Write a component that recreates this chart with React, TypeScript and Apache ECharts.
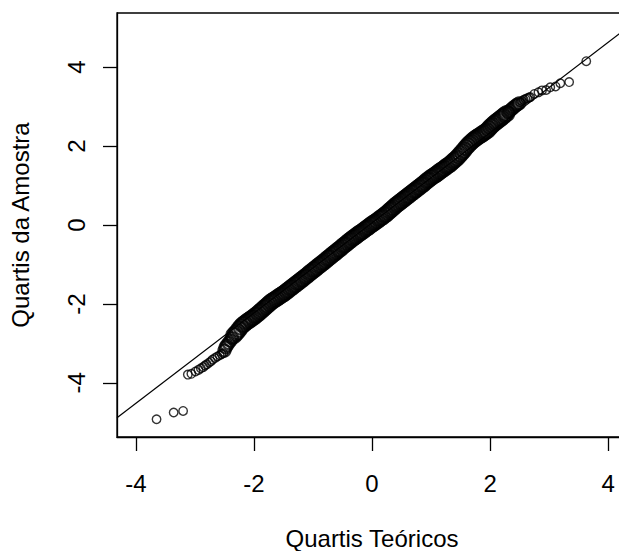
import React, { useEffect, useRef } from "react";
import * as echarts from "echarts";

// Theoretical (normal) quantiles
const theoreticalQuantiles = [
  -3.65, -3.36, -3.2, -3.12, -3.06, -2.99, -2.94, -2.9, -2.86, -2.83, -2.8, -2.76, -2.73, -2.7, -2.66, -2.62,
  -2.58, -2.55, -2.52, -2.5, -2.48, -2.46, -2.43, -2.4, -2.37, -2.34, -2.31, -2.28, -2.25, -2.22, -2.19, -2.16,
  -2.13, -2.1, -2.07, -2.04, -2.01, -1.98, -1.95, -1.92, -1.89, -1.86, -1.83, -1.8, -1.77, -1.74, -1.71, -1.68,
  -1.65, -1.62, -1.59, -1.56, -1.53, -1.5, -1.47, -1.44, -1.41, -1.38, -1.35, -1.32, -1.29, -1.26, -1.23, -1.2,
  -1.17, -1.14, -1.11, -1.08, -1.05, -1.02, -0.99, -0.96, -0.93, -0.9, -0.87, -0.84, -0.81, -0.78, -0.75, -0.72,
  -0.69, -0.66, -0.63, -0.6, -0.57, -0.54, -0.51, -0.48, -0.45, -0.42, -0.39, -0.36, -0.33, -0.3, -0.27, -0.24,
  -0.21, -0.18, -0.15, -0.12, -0.09, -0.06, -0.03, 0.0, 0.03, 0.06, 0.09, 0.12, 0.15, 0.18, 0.21, 0.24,
  0.27, 0.3, 0.33, 0.36, 0.39, 0.42, 0.45, 0.48, 0.51, 0.54, 0.57, 0.6, 0.63, 0.66, 0.69, 0.72,
  0.75, 0.78, 0.81, 0.84, 0.87, 0.9, 0.93, 0.96, 0.99, 1.02, 1.05, 1.08, 1.11, 1.14, 1.17, 1.2,
  1.23, 1.26, 1.29, 1.32, 1.35, 1.38, 1.41, 1.44, 1.47, 1.5, 1.53, 1.56, 1.59, 1.62, 1.65, 1.68,
  1.71, 1.74, 1.77, 1.8, 1.83, 1.86, 1.89, 1.92, 1.95, 1.98, 2.01, 2.04, 2.07, 2.1, 2.13, 2.16,
  2.19, 2.22, 2.25, 2.28, 2.31, 2.34, 2.37, 2.4, 2.43, 2.46, 2.49, 2.51, 2.54, 2.57, 2.6, 2.63,
  2.66, 2.68, 2.75, 2.82, 2.88, 2.95, 3.02, 3.11, 3.19, 3.34, 3.63,
];

// Sample quantiles
const sampleQuantiles = [
  -4.92, -4.75, -4.71, -3.79, -3.77, -3.71, -3.67, -3.63, -3.6, -3.56, -3.53, -3.49, -3.45, -3.41, -3.37, -3.33,
  -3.3, -3.27, -3.25, -3.18, -3.1, -3.05, -2.99, -2.93, -2.87, -2.8, -2.75, -2.7, -2.64, -2.58, -2.53, -2.5,
  -2.46, -2.43, -2.4, -2.37, -2.34, -2.3, -2.27, -2.23, -2.19, -2.15, -2.11, -2.07, -2.03, -1.99, -1.95, -1.92,
  -1.89, -1.86, -1.83, -1.8, -1.77, -1.74, -1.71, -1.67, -1.64, -1.6, -1.57, -1.53, -1.5, -1.46, -1.43, -1.39,
  -1.36, -1.32, -1.29, -1.25, -1.21, -1.18, -1.14, -1.11, -1.07, -1.03, -1.0, -0.96, -0.93, -0.89, -0.85, -0.82,
  -0.78, -0.74, -0.71, -0.67, -0.63, -0.6, -0.56, -0.52, -0.49, -0.45, -0.41, -0.38, -0.34, -0.31, -0.28, -0.24,
  -0.21, -0.18, -0.15, -0.11, -0.08, -0.05, -0.01, 0.02, 0.05, 0.08, 0.11, 0.15, 0.18, 0.21, 0.25, 0.28,
  0.32, 0.36, 0.4, 0.44, 0.48, 0.52, 0.55, 0.59, 0.62, 0.66, 0.69, 0.73, 0.76, 0.8, 0.83, 0.87,
  0.9, 0.94, 0.97, 1.01, 1.04, 1.08, 1.12, 1.15, 1.19, 1.22, 1.25, 1.28, 1.31, 1.35, 1.38, 1.41,
  1.44, 1.48, 1.51, 1.54, 1.58, 1.62, 1.66, 1.7, 1.75, 1.8, 1.85, 1.9, 1.96, 2.01, 2.06, 2.1,
  2.14, 2.18, 2.21, 2.24, 2.27, 2.3, 2.33, 2.36, 2.39, 2.44, 2.49, 2.53, 2.57, 2.61, 2.64, 2.68,
  2.71, 2.75, 2.79, 2.82, 2.86, 2.9, 2.94, 2.98, 3.02, 3.05, 3.08, 3.11, 3.14, 3.17, 3.19, 3.21,
  3.23, 3.24, 3.32, 3.36, 3.41, 3.42, 3.49, 3.51, 3.59, 3.62, 4.15,
];

// Reference line (qqline) end points
const refLineX = [-4.32, 4.32];
const refLineY = [-4.88, 4.99];

const xTicks = [-4, -2, 0, 2, 4];
const yTicks = [-4, -2, 0, 2, 4];
const xTitle = "Quartis Teóricos";
const yTitle = "Quartis da Amostra";

const FONT = "'Liberation Sans', Arial, Helvetica, sans-serif";

// Overlapping circles in the dense centre merge into a thick band
function markerSize(x: number): number {
  if (x > -2.36 && x < 2.3) return 15;
  if (x > -2.51 && x < 2.5) return 12;
  return 8.5;
}
function markerStroke(x: number): number {
  if (x > -2.51 && x < 2.5) return 2.2;
  return 1.4;
}

export default function App() {
  const ref = useRef<HTMLDivElement>(null);

  useEffect(() => {
    if (!ref.current) return;
    const chart = echarts.init(ref.current, undefined, { renderer: "svg" });
    const points = theoreticalQuantiles.map((x, i) => ({
      value: [x, sampleQuantiles[i]],
      symbolSize: markerSize(x),
      itemStyle: { borderWidth: markerStroke(x) },
    }));
    const linePts = refLineX.map((x, i) => [x, refLineY[i]]);

    chart.setOption({
      animation: false,
      backgroundColor: "#ffffff",
      grid: {
        left: 117,
        top: 13,
        right: -8,
        bottom: 114,
        containLabel: false,
        outerBoundsMode: "none",
        show: true,
        borderColor: "#000",
        borderWidth: 1.3,
        backgroundColor: "transparent",
      },
      xAxis: {
        type: "value",
        min: -4.32,
        max: 4.32,
        name: xTitle,
        nameLocation: "middle",
        nameGap: 89,
        nameTextStyle: { fontSize: 24, color: "#000", fontFamily: FONT },
        axisLine: { show: true, onZero: false, lineStyle: { color: "#000", width: 1.3 } },
        axisTick: {
          show: true,
          customValues: xTicks,
          length: 14,
          lineStyle: { color: "#000", width: 1.3 },
        },
        axisLabel: {
          customValues: xTicks,
          fontSize: 24,
          color: "#000",
          margin: 34,
          fontFamily: FONT,
        },
        splitLine: { show: false },
      },
      yAxis: {
        type: "value",
        min: -5.37,
        max: 5.37,
        name: yTitle,
        nameLocation: "middle",
        nameGap: 85,
        nameTextStyle: { fontSize: 24, color: "#000", fontFamily: FONT },
        axisLine: { show: true, onZero: false, lineStyle: { color: "#000", width: 1.3 } },
        axisTick: {
          show: true,
          customValues: yTicks,
          length: 14,
          lineStyle: { color: "#000", width: 1.3 },
        },
        axisLabel: {
          customValues: yTicks,
          fontSize: 24,
          color: "#000",
          margin: 29,
          rotate: 90,
          fontFamily: FONT,
        },
        splitLine: { show: false },
      },
      series: [
        {
          type: "line",
          data: linePts,
          showSymbol: false,
          symbol: "none",
          clip: true,
          lineStyle: { color: "#000", width: 1.2 },
          silent: true,
          z: 2,
        },
        {
          type: "scatter",
          data: points,
          symbol: "circle",
          itemStyle: { color: "rgba(0,0,0,0)", borderColor: "#000", borderWidth: 1.4 },
          silent: true,
          z: 3,
        },
      ],
    });

    return () => chart.dispose();
  }, []);

  return (
    <div
      ref={ref}
      style={{ position: "fixed", left: 0, top: 0, width: 619, height: 551, background: "#fff" }}
    />
  );
}
